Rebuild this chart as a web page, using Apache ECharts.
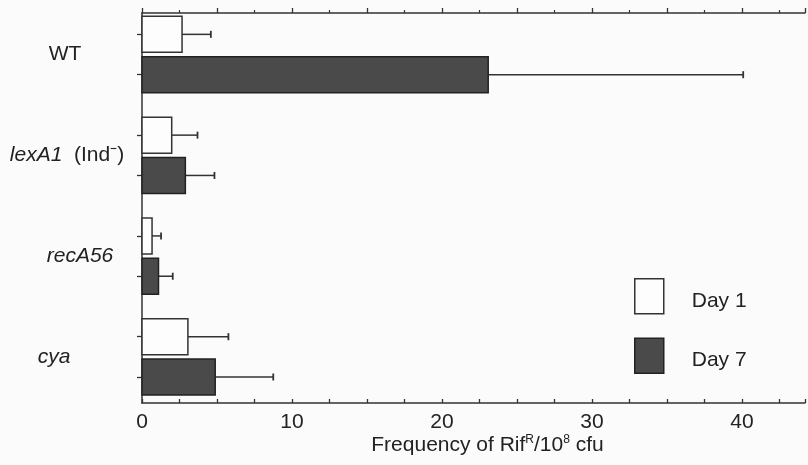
<!DOCTYPE html>
<html>
<head>
<meta charset="utf-8">
<script src="https://cdn.jsdelivr.net/npm/echarts@6/dist/echarts.min.js"></script>
<style>
  html, body { margin: 0; padding: 0; background: #fbfbfb; }
  #chart { width: 808px; height: 465px; }
</style>
</head>
<body>
<div id="chart"></div>
<script>
// strains, top to bottom
var strains = ['WT', 'lexA1', 'recA56', 'cya'];
// Frequency of RifR per 10^8 cfu (mean and upper error)
var day1 = [2.67, 1.98, 0.67, 3.06];
var day1Err = [1.92, 1.72, 0.6, 2.7];
var day7 = [23.08, 2.89, 1.1, 4.88];
var day7Err = [17.0, 1.94, 0.95, 3.87];
var xTicks = [0, 10, 20, 30, 40];

var font = '"Liberation Sans", Arial, sans-serif';
var ink = '#222';

// slot of each bar on the y scale: 5 per strain, day 7 two below day 1
function slot(i, s) { return i * 5 + s * 2; }

function buildData(vals, errs, s) {
    return vals.map(function (v, i) { return [v, slot(i, s), errs[i]]; });
}

function renderBar(params, api) {
    var v = api.value(0), k = api.value(1), e = api.value(2);
    var p0 = api.coord([0, k]);
    var p1 = api.coord([v, k]);
    var p2 = api.coord([v + e, k]);
    var h = 36;
    var st = api.style();
    return {
        type: 'group',
        children: [
            {
                type: 'line',
                shape: { x1: p1[0], y1: p1[1], x2: p2[0], y2: p2[1] },
                style: { stroke: '#333', lineWidth: 1.5 }
            },
            {
                type: 'line',
                shape: { x1: p2[0], y1: p2[1] - 3.5, x2: p2[0], y2: p2[1] + 3.5 },
                style: { stroke: '#333', lineWidth: 1.8 }
            },
            {
                type: 'rect',
                shape: { x: p0[0], y: p0[1] - h / 2, width: p1[0] - p0[0], height: h },
                style: { fill: st.fill, stroke: st.stroke, lineWidth: 1.5 }
            }
        ]
    };
}

// strain labels sit a little off a common centre, as in the print
function labelFor(v) {
    var i = Math.round((v - 1) / 5);
    var s = strains[i];
    if (s === 'lexA1') return '{it|lexA1}{up|  (Ind⁻)}';
    if (s === 'WT') return '{wt|WT}';
    if (s === 'recA56') return '{rec|recA56}';
    return '{cya|' + s + '}';
}

var chart = echarts.init(document.getElementById('chart'));
chart.setOption({
    backgroundColor: '#fbfbfb',
    animation: false,
    textStyle: { fontFamily: font, color: ink },
    grid: { left: 142, right: 0, top: 13, bottom: 62 },
    legend: {
        orient: 'vertical',
        left: 634,
        top: 278,
        padding: 0,
        itemWidth: 29,
        itemHeight: 35,
        itemGap: 23,
        icon: 'rect',
        formatter: function (n) { return '{d|' + n + '}'; },
        textStyle: {
            color: ink,
            fontFamily: font,
            rich: { d: { fontSize: 21, color: ink, fontFamily: font, padding: [9, 0, 0, 23] } }
        },
        data: [
            { name: 'Day 1', itemStyle: { color: '#fdfdfd', borderColor: '#333', borderWidth: 1.5 } },
            { name: 'Day 7', itemStyle: { color: '#4a4a4a', borderColor: '#222', borderWidth: 1.5 } }
        ]
    },
    xAxis: [
        {
            type: 'value',
            position: 'bottom',
            min: 0,
            max: 44.2,
            interval: 2.5,
            axisLine: { show: true, onZero: false, lineStyle: { color: '#333', width: 1.5 } },
            axisTick: { show: true, inside: true, length: 4, lineStyle: { color: '#333', width: 1.3 } },
            splitLine: { show: false },
            axisLabel: {
                margin: 9,
                fontSize: 21,
                color: ink,
                fontFamily: font,
                formatter: function (v) { return xTicks.indexOf(v) >= 0 ? String(v) : ''; }
            },
            name: '{t|Frequency of Rif}{s|R}{t|/10}{s|8}{t| cfu}',
            nameLocation: 'middle',
            nameGap: 31,
            nameMoveOverlap: false,
            nameTextStyle: {
                padding: [0, 0, 0, 28],
                rich: {
                    t: { fontSize: 21, color: ink, fontFamily: font, lineHeight: 23 },
                    s: { fontSize: 12, color: ink, fontFamily: font, lineHeight: 12, verticalAlign: 'top' }
                }
            }
        },
        {
            type: 'value',
            position: 'top',
            min: 0,
            max: 44.2,
            interval: 5,
            axisLine: { show: true, onZero: false, lineStyle: { color: '#333', width: 1.5 } },
            axisTick: { show: true, length: 5, lineStyle: { color: '#333', width: 1.3 } },
            minorTick: { show: true, splitNumber: 2, length: 3, lineStyle: { color: '#333', width: 1.2 } },
            splitLine: { show: false },
            axisLabel: { show: false }
        }
    ],
    yAxis: {
        type: 'value',
        inverse: true,
        min: -1.06,
        max: 18.29,
        axisLine: { show: true, onZero: false, lineStyle: { color: '#333', width: 1.5 } },
        axisTick: {
            show: true,
            length: 5,
            lineStyle: { color: '#333', width: 1.3 },
            customValues: [0, 2, 5, 7, 10, 12, 15, 17]
        },
        splitLine: { show: false },
        axisLabel: {
            customValues: [1, 6, 11, 16],
            align: 'center',
            margin: 75,
            formatter: labelFor,
            rich: {
                it: { fontSize: 21, fontStyle: 'italic', color: ink, fontFamily: font },
                up: { fontSize: 21, color: ink, fontFamily: font },
                wt: { fontSize: 21, color: ink, fontFamily: font, padding: [0, 4, 0, 0] },
                rec: { fontSize: 21, fontStyle: 'italic', color: ink, fontFamily: font, padding: [0, 0, 0, 26] },
                cya: { fontSize: 21, fontStyle: 'italic', color: ink, fontFamily: font, padding: [0, 26, 0, 0] }
            }
        }
    },
    series: [
        {
            name: 'Day 1',
            type: 'custom',
            renderItem: renderBar,
            itemStyle: { color: '#fdfdfd', borderColor: '#333' },
            encode: { x: 0, y: 1 },
            data: buildData(day1, day1Err, 0)
        },
        {
            name: 'Day 7',
            type: 'custom',
            renderItem: renderBar,
            itemStyle: { color: '#4a4a4a', borderColor: '#222' },
            encode: { x: 0, y: 1 },
            data: buildData(day7, day7Err, 1)
        }
    ]
});
</script>
</body>
</html>
